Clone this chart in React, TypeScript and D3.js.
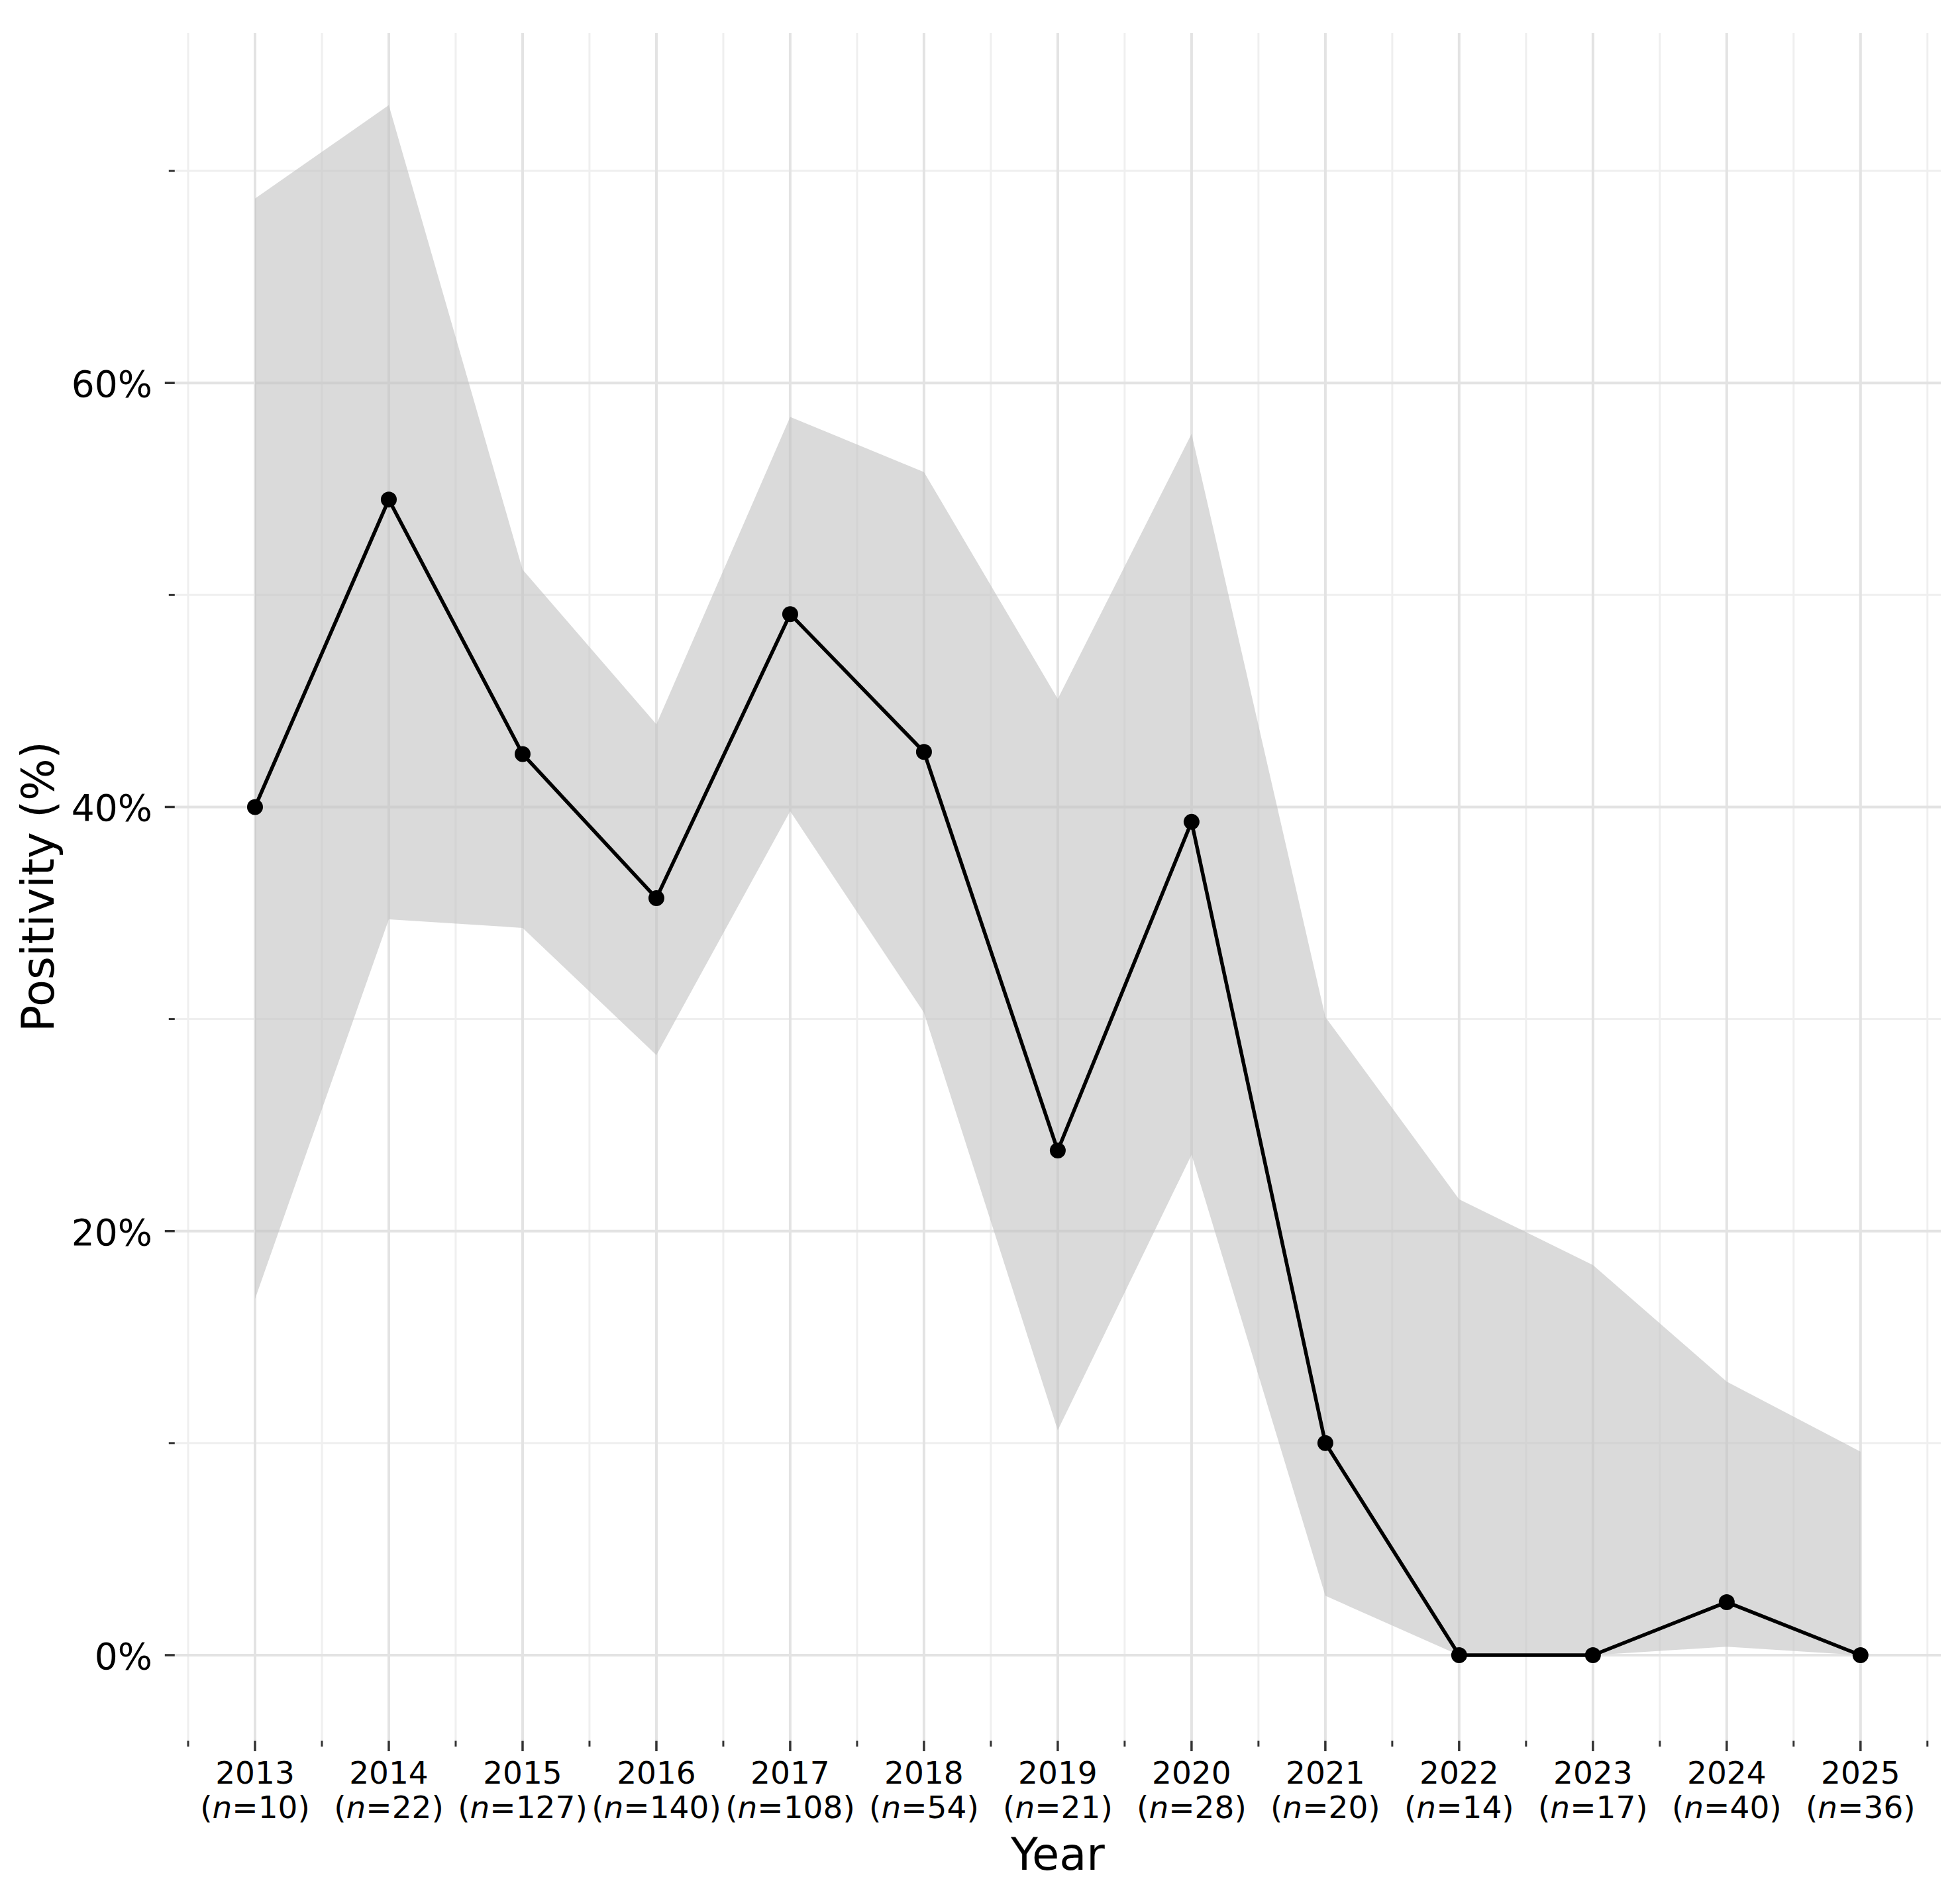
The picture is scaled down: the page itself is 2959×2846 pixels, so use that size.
import * as d3 from 'd3';

// Positivity by year with 95% CI band
const years = [2013, 2014, 2015, 2016, 2017, 2018, 2019, 2020, 2021, 2022, 2023, 2024, 2025];
const sampleSizes = [10, 22, 127, 140, 108, 54, 21, 28, 20, 14, 17, 40, 36];
const positivity = [40.0, 54.5, 42.5, 35.7, 49.1, 42.6, 23.8, 39.3, 10.0, 0, 0, 2.5, 0];
const ciLower = [16.8, 34.7, 34.3, 28.3, 39.8, 30.3, 10.6, 23.6, 2.8, 0, 0, 0.4, 0];
const ciUpper = [68.7, 73.1, 51.2, 43.9, 58.4, 55.8, 45.1, 57.6, 30.1, 21.5, 18.4, 12.9, 9.6];
const yMajorTicks = [0, 20, 40, 60];
const yMinorTicks = [10, 30, 50, 70];

const W = 2959;
const H = 2846;
const FONT = '"DejaVu Sans", Verdana, sans-serif';

interface Row {
    year: number;
    n: number;
    value: number;
    lo: number;
    hi: number;
}

const rows: Row[] = years.map((year, i) => ({
    year,
    n: sampleSizes[i],
    value: positivity[i],
    lo: ciLower[i],
    hi: ciUpper[i],
}));

export default function App() {
    const panel = { left: 263.8, right: 2930, top: 50, bottom: 2627 };

    const x = d3.scaleLinear()
        .domain([2012.4, 2025.6])
        .range([panel.left, panel.right]);

    const y = d3.scaleLinear()
        .domain([-4.0, 76.5])
        .range([panel.bottom, panel.top]);

    const xMinor = d3.range(years.length + 1).map(i => years[0] - 0.5 + i);

    const area = d3.area<Row>()
        .x(d => x(d.year))
        .y0(d => y(d.lo))
        .y1(d => y(d.hi));

    const line = d3.line<Row>()
        .x(d => x(d.year))
        .y(d => y(d.value));

    return (
        <svg
            width={W}
            height={H}
            viewBox={`0 0 ${W} ${H}`}
            style={{ position: 'absolute', left: 0, top: 0, display: 'block', background: '#fff' }}
            fontFamily={FONT}
        >
            <rect width={W} height={H} fill="#fff" />

            {/* grid */}
            <g>
                {yMinorTicks.map(t => (
                    <line key={'ym' + t} x1={panel.left} x2={panel.right} y1={y(t)} y2={y(t)}
                        stroke="#efefef" strokeWidth={3} />
                ))}
                {xMinor.map(t => (
                    <line key={'xm' + t} x1={x(t)} x2={x(t)} y1={panel.top} y2={panel.bottom}
                        stroke="#efefef" strokeWidth={3} />
                ))}
                {yMajorTicks.map(t => (
                    <line key={'yM' + t} x1={panel.left} x2={panel.right} y1={y(t)} y2={y(t)}
                        stroke="#e3e3e3" strokeWidth={4} />
                ))}
                {years.map(t => (
                    <line key={'xM' + t} x1={x(t)} x2={x(t)} y1={panel.top} y2={panel.bottom}
                        stroke="#e3e3e3" strokeWidth={4} />
                ))}
            </g>

            {/* confidence band */}
            <path d={area(rows) ?? ''} fill="#c2c2c2" fillOpacity={0.6} />

            {/* line + points */}
            <path d={line(rows) ?? ''} fill="none" stroke="#000" strokeWidth={5.5} strokeLinejoin="round" />
            {rows.map(d => (
                <circle key={d.year} cx={x(d.year)} cy={y(d.value)} r={12} fill="#000" />
            ))}

            {/* y axis ticks + labels */}
            <g>
                {yMinorTicks.map(t => (
                    <line key={'ytm' + t} x1={panel.left - 9} x2={panel.left} y1={y(t)} y2={y(t)}
                        stroke="#333" strokeWidth={3} />
                ))}
                {yMajorTicks.map(t => (
                    <g key={'ytM' + t}>
                        <line x1={panel.left - 15} x2={panel.left} y1={y(t)} y2={y(t)}
                            stroke="#333" strokeWidth={3.5} />
                        <text x={230} y={y(t) + 21} textAnchor="end" fontSize={55} fill="#000">
                            {`${t}%`}
                        </text>
                    </g>
                ))}
            </g>

            {/* x axis ticks + labels */}
            <g>
                {xMinor.map(t => (
                    <line key={'xtm' + t} x1={x(t)} x2={x(t)} y1={panel.bottom + 1} y2={panel.bottom + 10}
                        stroke="#333" strokeWidth={3} />
                ))}
                {rows.map(d => (
                    <g key={'xtM' + d.year}>
                        <line x1={x(d.year)} x2={x(d.year)} y1={panel.bottom + 1} y2={panel.bottom + 17}
                            stroke="#333" strokeWidth={3.5} />
                        <text x={x(d.year)} y={2693} textAnchor="middle" fontSize={47} fill="#000">
                            {d.year}
                        </text>
                        <text x={x(d.year)} y={2745} textAnchor="middle" fontSize={47} fill="#000">
                            (<tspan fontStyle="italic">n</tspan>={d.n})
                        </text>
                    </g>
                ))}
            </g>

            {/* axis titles */}
            <text x={(panel.left + panel.right) / 2} y={2823} textAnchor="middle" fontSize={67} fill="#000">
                Year
            </text>
            <text
                transform={`translate(81, ${(panel.top + panel.bottom) / 2}) rotate(-90)`}
                textAnchor="middle"
                fontSize={67}
                fill="#000"
            >
                Positivity (%)
            </text>
        </svg>
    );
}
